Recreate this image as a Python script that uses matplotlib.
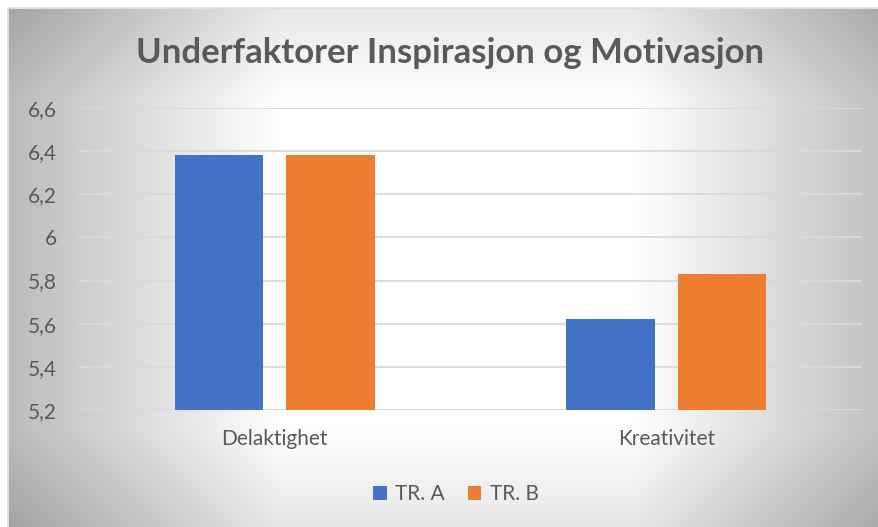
import numpy as np
import matplotlib
matplotlib.use("Agg")
import matplotlib.pyplot as plt
from matplotlib.patches import Rectangle

categories = ["Delaktighet", "Kreativitet"]
tr_a = [6.38, 5.62]
tr_b = [6.38, 5.83]
series_names = ["TR. A", "TR. B"]
y_ticks = [5.2, 5.4, 5.6, 5.8, 6.0, 6.2, 6.4, 6.6]
y_tick_labels = ["5,2", "5,4", "5,6", "5,8", "6", "6,2", "6,4", "6,6"]

W, H = 879, 527
plt.rcParams['font.family'] = ['Lato', 'DejaVu Sans']
text_color = '#595959'

fig = plt.figure(figsize=(W / 100, H / 100), dpi=100)
fig.patch.set_facecolor('white')

# background: grey gradient fading to a white middle area
bg = fig.add_axes([0, 0, 1, 1])
bg.set_xlim(0, W)
bg.set_ylim(H, 0)
bg.axis('off')
yy, xx = np.mgrid[0:H, 0:W] + 0.5
dx = np.clip(280 - xx, 0, None) + np.clip(xx - 634, 0, None)
dy = np.clip(100 - yy, 0, None) + np.clip(yy - 430, 0, None)
v = np.clip(255 - 0.25 * (dx + dy), 150, 255) / 255
v[(xx < 9) | (yy < 9)] = 1.0
img = np.dstack([v, v, v])
bg.imshow(img, extent=(0, W, H, 0), interpolation='bilinear', aspect='auto')
bg.add_patch(Rectangle((8, 8), W, H, fill=False, edgecolor='#d9d9d9', linewidth=1.2))

ax = fig.add_axes([79 / W, 1 - 410 / H, (862 - 79) / W, (410 - 108) / H])
ax.set_facecolor('none')

x = np.arange(len(categories))
width = 0.225
offset = 0.1424
ax.bar(x - offset, tr_a, width, color='#4472C4', label=series_names[0], zorder=3)
ax.bar(x + offset, tr_b, width, color='#ED7D31', label=series_names[1], zorder=3)

ax.set_xlim(-0.5, len(categories) - 0.5)
ax.set_ylim(5.2, 6.6)
ax.set_yticks(y_ticks)
ax.set_yticklabels(y_tick_labels)
ax.set_xticks(x)
ax.set_xticklabels(categories)
ax.tick_params(axis='both', length=0, colors=text_color, labelsize=15)
ax.tick_params(axis='y', pad=16)
ax.tick_params(axis='x', pad=14)
ax.yaxis.grid(True, color='#d9d9d9', linewidth=1.3, zorder=0)
ax.set_axisbelow(True)
for s in ax.spines.values():
    s.set_visible(False)

fig.text(450 / W, 1 - 53 / H, "Underfaktorer Inspirasjon og Motivasjon",
         ha='center', va='center', fontsize=25, fontweight='bold', color=text_color)

leg = ax.legend(loc='center', bbox_to_anchor=(456 / W, 1 - 494 / H),
                bbox_transform=fig.transFigure, ncol=2, frameon=False,
                fontsize=15, handlelength=0.65, handleheight=0.65,
                handletextpad=0.4, columnspacing=1.1)
for t in leg.get_texts():
    t.set_color(text_color)

fig.savefig('out.png', dpi=100)
